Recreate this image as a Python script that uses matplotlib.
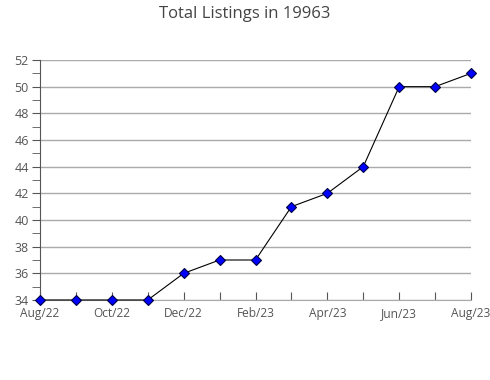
import matplotlib
matplotlib.use("Agg")
import matplotlib.pyplot as plt
from matplotlib.ticker import MultipleLocator

months = ["Aug/22", "Sep/22", "Oct/22", "Nov/22", "Dec/22", "Jan/23", "Feb/23",
          "Mar/23", "Apr/23", "May/23", "Jun/23", "Jul/23", "Aug/23"]
listings = [34, 34, 34, 34, 36, 37, 37, 41, 42, 44, 50, 50, 51]

plt.rcParams['font.family'] = ['Open Sans', 'DejaVu Sans']

fig = plt.figure(figsize=(4.9, 3.8), dpi=100)
ax = fig.add_axes([40/490, 1-300/380, (471-40)/490, (300-60)/380])

x = list(range(len(months)))
ax.plot(x, listings, color='black', lw=0.8, marker='D', markersize=5.5,
        markerfacecolor='#0000ff', markeredgecolor='#000044', markeredgewidth=0.8,
        zorder=3, clip_on=False)

ax.set_xlim(0, len(months)-1)
ax.set_ylim(34, 52)
ax.yaxis.set_major_locator(MultipleLocator(2))
ax.yaxis.set_minor_locator(MultipleLocator(1))
ax.set_xticks(x)
ax.set_xticklabels([m if i % 2 == 0 else "" for i, m in enumerate(months)])

ax.grid(axis='y', which='major', color='#aaaaaa', lw=1)
ax.set_axisbelow(True)
for s in ['top', 'right']:
    ax.spines[s].set_visible(False)
ax.spines['left'].set_color('#555555')
ax.spines['bottom'].set_color('#aaaaaa')

ax.tick_params(axis='y', which='both', direction='out', length=6, color='#555555',
               labelsize=9, labelcolor='#555555', pad=2)
ax.tick_params(axis='x', which='both', direction='in', length=6, color='#555555',
               labelsize=8.6, labelcolor='#555555', pad=5)

fig.suptitle("Total Listings in 19963", x=0.5, y=0.985, fontsize=12, color='#444444')

fig.savefig("out.png", dpi=100)
